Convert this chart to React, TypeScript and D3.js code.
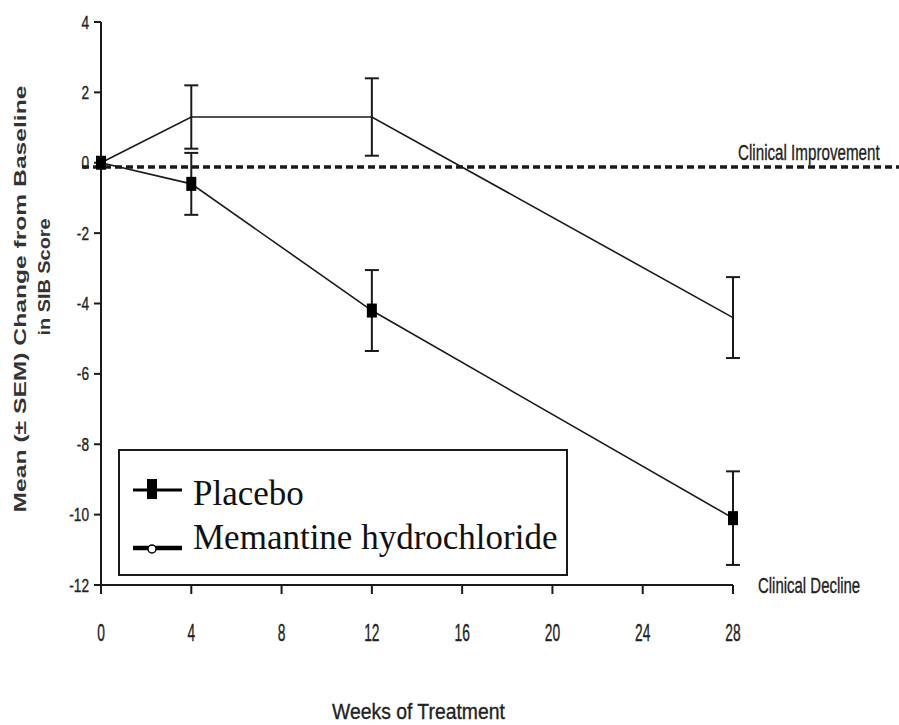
import React from "react";
import * as d3 from "d3";

const WIDTH = 899;
const HEIGHT = 725;

// values
const weeks = [0, 4, 12, 28];
const placeboMean = [0, -0.6, -4.2, -10.1];
const placeboSem = [0, 0.88, 1.15, 1.33];
const memantineMean = [0, 1.3, 1.3, -4.4];
const memantineSem = [0, 0.9, 1.1, 1.15];
const xTicks = [0, 4, 8, 12, 16, 20, 24, 28];
const yTicks = [4, 2, 0, -2, -4, -6, -8, -10, -12];
const referenceLevel = -0.12;
const legendLabels = ["Placebo", "Memantine hydrochloride"];

const INK = "#1a1a1a";
const TEXT = "#222";

// condensed look of the original font: squeeze plain Liberation Sans sideways
const Narrow = ({ x, y, sx, size, anchor, children, weight }: any) => (
  <g transform={`translate(${x},${y}) scale(${sx},1)`}>
    <text
      textAnchor={anchor || "start"}
      fontSize={size}
      fontWeight={weight || "normal"}
      fontFamily="Liberation Sans, Arial, sans-serif"
      fill={TEXT}
      stroke={TEXT}
      strokeWidth={0.35}
    >
      {children}
    </text>
  </g>
);

export default function App() {
  const x = d3.scaleLinear().domain([0, 28]).range([101, 733]);
  const y = d3.scaleLinear().domain([-12, 4]).range([585, 22]);

  const line = d3
    .line<number>()
    .x((_, i) => x(weeks[i]))
    .y((d) => y(d));

  const errorBars = (means: number[], sems: number[]) =>
    weeks.map((w, i) => {
      if (!sems[i]) return null;
      const cx = x(w);
      const top = y(means[i] + sems[i]);
      const bot = y(means[i] - sems[i]);
      return (
        <g key={w} stroke={INK} strokeWidth={2}>
          <line x1={cx} x2={cx} y1={top} y2={bot} />
          <line x1={cx - 7} x2={cx + 7} y1={top} y2={top} />
          <line x1={cx - 7} x2={cx + 7} y1={bot} y2={bot} />
        </g>
      );
    });

  return (
    <svg
      width={WIDTH}
      height={HEIGHT}
      style={{ position: "absolute", left: 0, top: 0, background: "#fff" }}
    >
      {/* y axis title, letters drawn a bit wide like the original */}
      <g fontFamily="Liberation Sans, Arial, sans-serif" fontWeight="bold" fontSize={17} fill="#333">
        <g transform="translate(26,299) rotate(-90) scale(1.45,1)">
          <text textAnchor="middle">Mean (± SEM) Change from Baseline</text>
        </g>
        <g transform="translate(50,277) rotate(-90) scale(1.17,1)">
          <text textAnchor="middle">in SIB Score</text>
        </g>
      </g>

      {/* reference line */}
      <line
        x1={82}
        x2={WIDTH}
        y1={y(referenceLevel)}
        y2={y(referenceLevel)}
        stroke={INK}
        strokeWidth={3.5}
        strokeDasharray="7 4"
      />

      {/* axes */}
      <g stroke={INK} strokeWidth={2}>
        <line x1={x(0)} x2={x(0)} y1={y(4)} y2={y(-12)} />
        <line x1={x(0)} x2={x(28)} y1={y(-12)} y2={y(-12)} />
        {yTicks.map((t) => (
          <line key={t} x1={x(0) - 7} x2={x(0)} y1={y(t)} y2={y(t)} />
        ))}
        {xTicks.map((t) => (
          <line key={t} x1={x(t)} x2={x(t)} y1={y(-12)} y2={y(-12) + 9} />
        ))}
      </g>
      {yTicks.map((t) => (
        <Narrow key={t} x={89} y={y(t) + 6.5} sx={0.72} size={19} anchor="end">
          {t}
        </Narrow>
      ))}
      {xTicks.map((t) => (
        <Narrow key={t} x={x(t)} y={641} sx={0.6} size={23} anchor="middle">
          {t}
        </Narrow>
      ))}

      {/* series */}
      <path d={line(memantineMean) || ""} fill="none" stroke={INK} strokeWidth={1.6} />
      <path d={line(placeboMean) || ""} fill="none" stroke={INK} strokeWidth={1.6} />
      {errorBars(memantineMean, memantineSem)}
      {errorBars(placeboMean, placeboSem)}
      {weeks.map((w, i) => (
        <rect key={w} x={x(w) - 5} y={y(placeboMean[i]) - 7} width={10} height={14} fill="#000" />
      ))}

      {/* annotations */}
      <Narrow x={738} y={160} sx={0.69} size={22}>Clinical Improvement</Narrow>
      <Narrow x={758} y={593} sx={0.68} size={22}>Clinical Decline</Narrow>
      <Narrow x={332} y={719} sx={0.88} size={22}>Weeks of Treatment</Narrow>

      {/* legend */}
      <g>
        <rect x={119} y={450} width={448} height={125} fill="#fff" stroke={INK} strokeWidth={2} />
        <line x1={133} x2={182} y1={490} y2={490} stroke="#000" strokeWidth={3} />
        <rect x={147} y={479} width={10} height={20} fill="#000" />
        <line x1={133} x2={182} y1={548} y2={548} stroke="#000" strokeWidth={4.5} />
        <circle cx={152} cy={549} r={4} fill="#fff" stroke="#000" strokeWidth={1.5} />
        <g fontFamily="Liberation Serif, Times New Roman, serif" fontSize={35} fill="#111">
          <text x={193} y={505}>{legendLabels[0]}</text>
          <text x={193} y={549}>{legendLabels[1]}</text>
        </g>
      </g>
    </svg>
  );
}
